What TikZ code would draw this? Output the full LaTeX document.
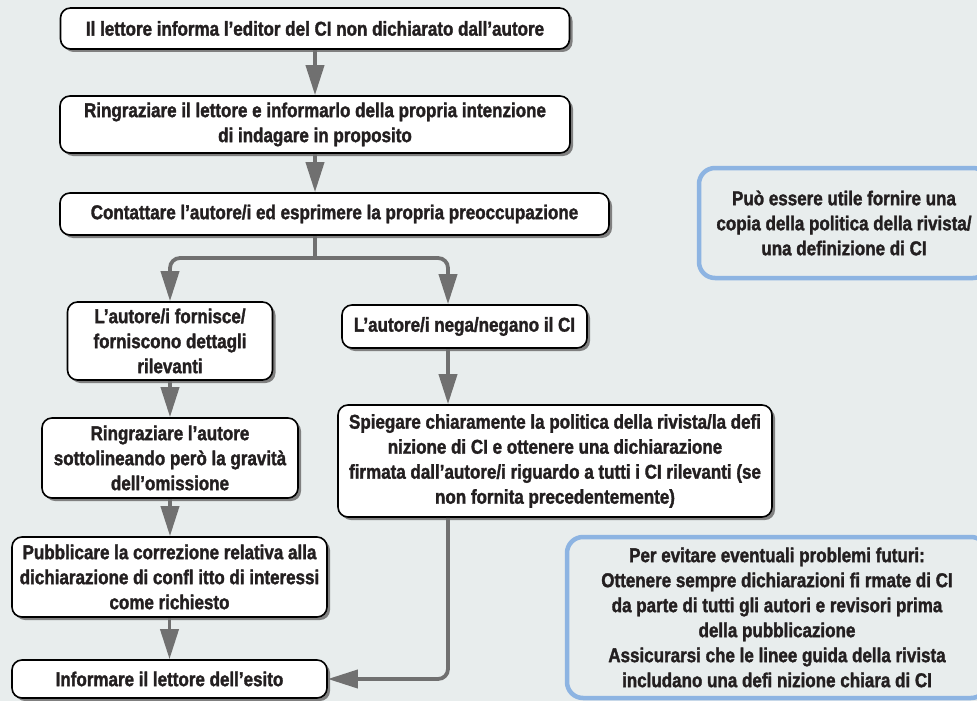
\documentclass[tikz,border=0pt]{standalone}
\usepackage{fontspec}
\setmainfont[FakeStretch=0.85,BoldFeatures={FakeBold=1.6}]{Liberation Sans}
\usetikzlibrary{arrows.meta,shadows}
\definecolor{bg}{HTML}{E8EDED}
\definecolor{arrgray}{HTML}{707070}
\definecolor{bluebd}{HTML}{8DB4E2}
\definecolor{txt}{HTML}{231F20}
\begin{document}
\begin{tikzpicture}[x=1pt,y=-1pt,
  every node/.style={font=\fontsize{20}{25}\selectfont\bfseries, text=txt, align=center, inner sep=0pt},
  box/.style={draw=black, line width=1.6pt, fill=white, rounded corners=10pt,
    drop shadow={shadow xshift=3pt, shadow yshift=-3pt, fill=black!50, opacity=1}},
  note/.style={draw=bluebd, line width=4.5pt, rounded corners=16pt},
  conn/.style={draw=arrgray, line width=3.8pt},
  arr/.style={conn, -{Triangle[width=18pt,length=30pt]}},
]
\fill[bg] (0,0) rectangle (977,701);
\useasboundingbox (0,0) rectangle (977,701);

\node[box, minimum width=509pt, minimum height=41pt] (b1) at (315,28.5)
  {Il lettore informa l’editor del CI non dichiarato dall’autore};
\node[box, minimum width=510pt, minimum height=57pt] (b2) at (315,124.5)
  {Ringraziare il lettore e informarlo della propria intenzione\\di indagare in proposito};
\node[box, minimum width=549pt, minimum height=42pt] (b3) at (334.5,214)
  {Contattare l’autore/i ed esprimere la propria preoccupazione};
\node[box, minimum width=205pt, minimum height=78pt] (b4) at (170,341)
  {L’autore/i fornisce/\\forniscono dettagli\\rilevanti};
\node[box, minimum width=256pt, minimum height=80pt] (b5) at (170,458)
  {Ringraziare l’autore\\sottolineando però la gravità\\dell’omissione};
\node[box, minimum width=315pt, minimum height=80pt] (b6) at (169.5,577)
  {Pubblicare la correzione relativa alla\\dichiarazione di confl itto di interessi\\come richiesto};
\node[box, minimum width=315pt, minimum height=38pt] (b7) at (169.5,679)
  {Informare il lettore dell’esito};
\node[box, minimum width=245pt, minimum height=43pt] (b8) at (464.5,326.5)
  {L’autore/i nega/negano il CI};
\node[box, minimum width=434pt, minimum height=112pt] (b9) at (555,461)
  {Spiegare chiaramente la politica della rivista/la defi\\nizione di CI e ottenere una dichiarazione\\firmata dall’autore/i riguardo a tutti i CI rilevanti (se\\non fornita precedentemente)};

\node[note, minimum width=290pt, minimum height=110pt] (n1) at (844,223)
  {Può essere utile fornire una\\copia della politica della rivista/\\una definizione di CI};
\node[note, minimum width=420pt, minimum height=161pt] (n2) at (777,617.5)
  {Per evitare eventuali problemi futuri:\\Ottenere sempre dichiarazioni fi rmate di CI\\da parte di tutti gli autori e revisori prima\\della pubblicazione\\Assicurarsi che le linee guida della rivista\\includano una defi nizione chiara di CI};

\coordinate (split) at (315,258);
\coordinate (rx) at (448,0);

\draw[arr] (b1.south) -- (b2.north);
\draw[arr] (b2.south) -- (b2.south |- b3.north);
\draw[conn] (b2.south |- b3.south) -- (split);
\draw[arr, rounded corners=10pt] (split) -| (b4.north);
\draw[arr, rounded corners=10pt] (split) -| (rx |- b8.north);
\draw[arr] (b4.south) -- (b5.north);
\draw[arr] (b5.south) -- (b5.south |- b6.north);
\draw[arr] (b6.south) -- (b7.north);
\draw[arr] (rx |- b8.south) -- (rx |- b9.north);
\draw[arr, rounded corners=10pt] (rx |- b9.south) |- (b7.east);
\end{tikzpicture}
\end{document}
